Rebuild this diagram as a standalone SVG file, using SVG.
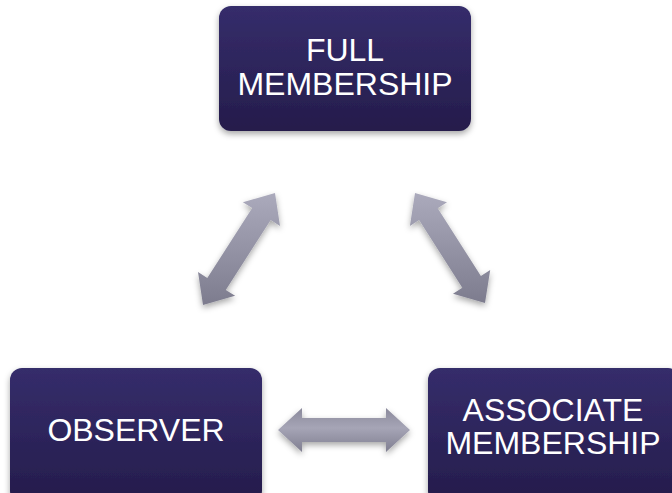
<svg xmlns="http://www.w3.org/2000/svg" width="672" height="493" viewBox="0 0 672 493">
<defs>
<linearGradient id="boxg" x1="0" y1="0" x2="0" y2="1">
<stop offset="0" stop-color="#352d6b"/>
<stop offset="1" stop-color="#251c4b"/>
</linearGradient>
<linearGradient id="arrg" x1="0" y1="0" x2="0" y2="1">
<stop offset="0" stop-color="#abaabc"/>
<stop offset="1" stop-color="#7d7c8e"/>
</linearGradient>
<linearGradient id="arrh" x1="0" y1="0" x2="0" y2="1">
<stop offset="0" stop-color="#8a899b"/>
<stop offset="0.45" stop-color="#a6a5b6"/>
<stop offset="1" stop-color="#7f7e90"/>
</linearGradient>
<filter id="sh" x="-20%" y="-20%" width="140%" height="150%">
<feDropShadow dx="0" dy="3" stdDeviation="3" flood-color="#000" flood-opacity="0.35"/>
</filter>
</defs>
<style>
.box{fill:url(#boxg);filter:url(#sh);}
.lbl{fill:#ffffff;font-family:"Liberation Sans",Arial,sans-serif;font-size:32px;text-anchor:middle;}
.arr{fill:url(#arrg);filter:url(#sh);}
</style>
<rect width="672" height="493" fill="#ffffff"/>
<g id="connectors">
<polygon class="arr" points="203,305 198,272 207.3,278 252.2,208.1 242.9,202.2 275,193 280,226 270.7,220 225.8,289.9 235.1,295.8"/>
<polygon class="arr" points="415,193 447,202.3 437.7,208.2 480.9,276 490.2,270.1 485,303 453,293.7 462.3,287.8 419.1,220 409.9,225.9"/>
<polygon class="arr" style="fill:url(#arrh)" points="278,430 302,408 302,418 386,418 386,408 410,430 386,452 386,442 302,442 302,452"/>
</g>
<g id="full">
<rect class="box" x="219" y="6" width="252" height="125" rx="12"/>
<text class="lbl"><tspan x="345" y="61">FULL</tspan><tspan x="345" y="95">MEMBERSHIP</tspan></text>
</g>
<g id="observer">
<rect class="box" x="10" y="368" width="252" height="135" rx="12"/>
<text class="lbl" x="136" y="441">OBSERVER</text>
</g>
<g id="associate">
<rect class="box" x="428" y="368" width="252" height="135" rx="12"/>
<text class="lbl"><tspan x="553" y="421">ASSOCIATE</tspan><tspan x="553" y="454">MEMBERSHIP</tspan></text>
</g>
</svg>
